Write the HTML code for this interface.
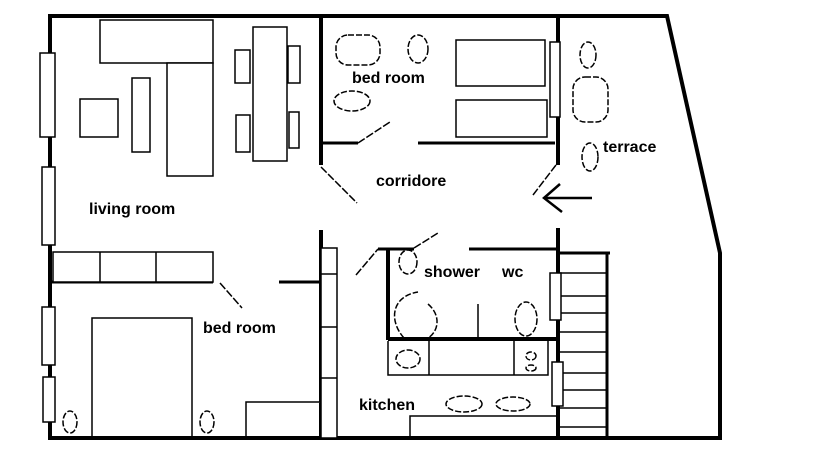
<!DOCTYPE html>
<html><head><style>body{margin:0;background:#fff}svg{display:block}text{font-family:"Liberation Sans",sans-serif;font-weight:bold;font-size:16px;fill:#000}</style></head>
<body>
<svg width="840" height="460" viewBox="0 0 840 460" xmlns="http://www.w3.org/2000/svg">
<g fill="none" stroke="#000">
<!-- outer walls -->
<g stroke-width="4">
<polyline points="50,14 50,438 720,438 720,253 667,16 50,16"/>
<line x1="321" y1="16" x2="321" y2="165"/>
<line x1="321" y1="230" x2="321" y2="438"/>
<line x1="558" y1="14" x2="558" y2="165"/>
<line x1="558" y1="228" x2="558" y2="440"/>
<line x1="388" y1="249" x2="388" y2="340"/>
<line x1="388" y1="339" x2="558" y2="339"/>
</g>
<g stroke-width="3">
<line x1="321" y1="143" x2="358" y2="143"/>
<line x1="418" y1="143" x2="555" y2="143"/>
<line x1="52" y1="282" x2="213" y2="282"/>
<line x1="279" y1="282" x2="321" y2="282"/>
<line x1="378" y1="249" x2="414" y2="249"/>
<line x1="469" y1="249" x2="558" y2="249"/>
<line x1="558" y1="253" x2="610" y2="253"/>
<line x1="607" y1="253" x2="607" y2="438"/>
</g>
<g stroke-width="1.5" fill="#fff">
<!-- left windows -->
<rect x="40" y="53" width="15" height="84"/>
<rect x="42" y="167" width="13" height="78"/>
<rect x="42" y="307" width="13" height="58"/>
<rect x="43" y="377" width="12" height="45"/>
<!-- living room furniture -->
<rect x="100" y="20" width="113" height="43"/>
<rect x="167" y="63" width="46" height="113"/>
<rect x="132" y="78" width="18" height="74"/>
<rect x="80" y="99" width="38" height="38"/>
<rect x="253" y="27" width="34" height="134"/>
<rect x="235" y="50" width="15" height="33"/>
<rect x="236" y="115" width="14" height="37"/>
<rect x="288" y="46" width="12" height="37"/>
<rect x="289" y="112" width="10" height="36"/>
<!-- bedroom top -->
<rect x="456" y="40" width="89" height="46"/>
<rect x="456" y="100" width="91" height="37"/>
<rect x="550" y="42" width="10" height="75"/>
<!-- bottom bedroom -->
<rect x="53" y="252" width="160" height="30"/>
<line x1="100" y1="252" x2="100" y2="282"/>
<line x1="156" y1="252" x2="156" y2="282"/>
<polyline points="92,436 92,318 192,318 192,436"/>
<polyline points="246,436 246,402 321,402"/>
<!-- cabinet strip -->
<rect x="321" y="248" width="16" height="190"/>
<line x1="321" y1="274" x2="337" y2="274"/>
<line x1="321" y1="327" x2="337" y2="327"/>
<line x1="321" y1="378" x2="337" y2="378"/>
<!-- bathroom -->
<line x1="478" y1="304" x2="478" y2="339"/>
<polyline points="388,341 388,375 548,375 548,341"/>
<line x1="429" y1="341" x2="429" y2="375"/>
<line x1="514" y1="341" x2="514" y2="375"/>
<polyline points="410,436 410,416 558,416"/>
<!-- stairs -->
<line x1="560" y1="273" x2="607" y2="273"/><line x1="560" y1="296" x2="607" y2="296"/>
<line x1="560" y1="313" x2="607" y2="313"/><line x1="560" y1="332" x2="607" y2="332"/>
<line x1="560" y1="352" x2="607" y2="352"/><line x1="560" y1="373" x2="607" y2="373"/>
<line x1="560" y1="390" x2="607" y2="390"/><line x1="560" y1="408" x2="607" y2="408"/>
<line x1="560" y1="427" x2="607" y2="427"/>
<rect x="550" y="273" width="11" height="47"/>
<rect x="552" y="362" width="11" height="44"/>
</g>
<!-- ovals (dashed) -->
<g stroke-width="1.5" stroke-dasharray="6,2">
<rect x="336" y="35" width="44" height="30" rx="12"/>
<ellipse cx="418" cy="49" rx="10" ry="14"/>
<ellipse cx="352" cy="101" rx="18" ry="10"/>
<ellipse cx="588" cy="55" rx="8" ry="13"/>
<rect x="573" y="77" width="35" height="45" rx="12"/>
<ellipse cx="590" cy="157" rx="8" ry="14"/>
<ellipse cx="70" cy="422" rx="7" ry="11"/>
<ellipse cx="207" cy="422" rx="7" ry="11"/>
<ellipse cx="408" cy="262" rx="9" ry="12"/>
<path d="M404,338 C388,320 392,296 418,292 M428,304 C442,316 438,332 428,338"/>
<ellipse cx="526" cy="319" rx="11" ry="17"/>
<ellipse cx="408" cy="359" rx="12" ry="9"/>
<ellipse cx="531" cy="356" rx="5" ry="4"/>
<ellipse cx="531" cy="368" rx="5" ry="3"/>
<ellipse cx="464" cy="404" rx="18" ry="8"/>
<ellipse cx="513" cy="404" rx="17" ry="7"/>
</g>
<!-- doors -->
<g stroke-width="1.5" stroke-dasharray="8,2">
<line x1="321" y1="167" x2="357" y2="203"/>
<line x1="358" y1="143" x2="390" y2="122"/>
<line x1="556" y1="165" x2="533" y2="195"/>
<line x1="220" y1="283" x2="242" y2="308"/>
<line x1="356" y1="275" x2="378" y2="249"/>
<line x1="414" y1="248" x2="438" y2="233"/>
</g>
<!-- arrow -->
<g stroke-width="2.5">
<line x1="544" y1="198" x2="592" y2="198"/>
<polyline points="560,184 544,198 562,212"/>
</g>
</g>
<text x="89" y="214">living room</text>
<text x="352" y="83">bed room</text>
<text x="376" y="186">corridore</text>
<text x="603" y="152">terrace</text>
<text x="203" y="333">bed room</text>
<text x="424" y="277">shower</text>
<text x="502" y="277">wc</text>
<text x="359" y="410">kitchen</text>
</svg>
</body></html>
